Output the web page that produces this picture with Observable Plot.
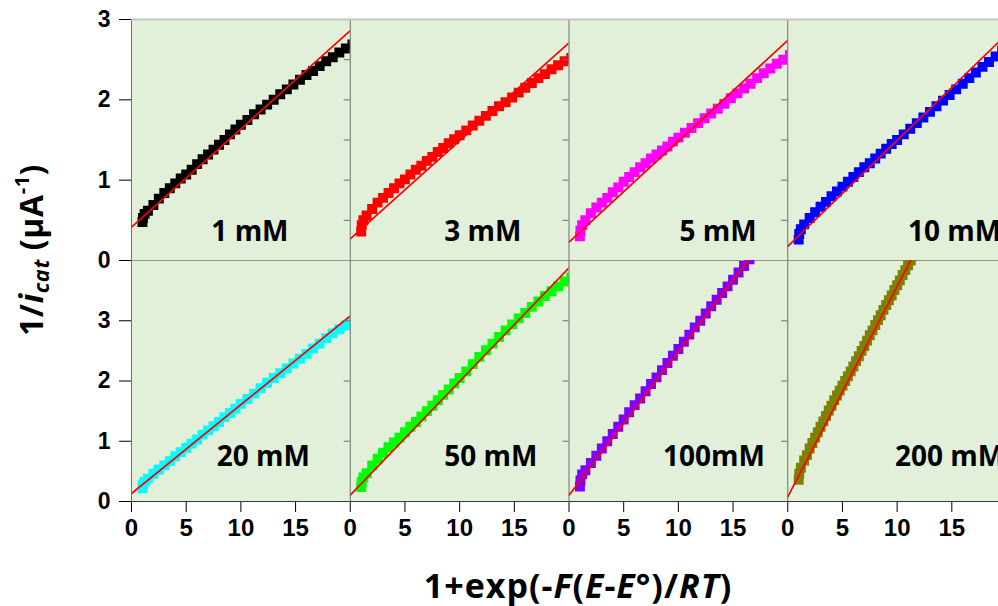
<!DOCTYPE html>
<html>
<head>
<meta charset="utf-8">
<script src="https://cdn.jsdelivr.net/npm/d3@7"></script>
<script src="https://cdn.jsdelivr.net/npm/@observablehq/plot@0.6"></script>
<style>
  html, body { margin: 0; padding: 0; background: #fff; overflow: hidden; }
  #wrap { position: relative; width: 998px; height: 606px; overflow: hidden; background: #fff; }
  #topRow, #bottomRow { position: absolute; left: 0; width: 1010px; }
  #topRow { top: 0; }
  #bottomRow { top: 260px; }
  #wrap svg { max-width: none !important; }
  .ytitle { position: absolute; left: 32px; top: 250px; transform: translate(-50%, -50%) rotate(-90deg);
            font-family: "Open Sans", sans-serif; font-weight: bold; font-size: 32px; white-space: nowrap; color: #000; letter-spacing: 0.6px; }
  .ytitle sub { font-size: 0.68em; vertical-align: -0.25em; }
  .ytitle sup { font-size: 0.62em; vertical-align: 0.7em; line-height: 0; }
  .xtitle { position: absolute; left: 578px; top: 585px; transform: translate(-50%, -50%);
            font-family: "Open Sans", sans-serif; font-weight: bold; font-size: 34px; white-space: nowrap; color: #000; letter-spacing: 1px; }
  g[aria-label="x-axis tick label"] text { font-family: "Liberation Sans Narrow", "Liberation Sans", Arial, sans-serif; font-size: 24px; }
  g[aria-label="y-axis tick label"] text { font-family: "Liberation Sans", Arial, sans-serif; font-size: 23px; }
</style>
</head>
<body>
<div id="wrap">
  <div id="topRow"></div>
  <div id="bottomRow"></div>
  <div class="ytitle">1/<i>i</i><sub><i>cat</i></sub> (μA<sup>-1</sup>)</div>
  <div class="xtitle">1+exp(-<i>F</i>(<i>E</i>-<i>E</i>°)/<i>RT</i>)</div>
</div>
<script>
// ---------- data ----------
const topConcs = ["1 mM", "3 mM", "5 mM", "10 mM"];
const bottomConcs = ["20 mM", "50 mM", "100mM", "200 mM"];
const seriesColors = ["#000000", "#FF0000", "#FF00FF", "#0000FF", "#00FFFF", "#00FF00", "#8000FF", "#808000"];

const xsCommon = [1, 1.05, 1.2, 1.5, 2, 2.5, 3, 3.5, 4, 4.5, 5, 5.5, 6, 6.5, 7, 7.5, 8, 8.5, 9, 9.5, 10,
  10.6, 11.2, 11.8, 12.4, 13, 13.6, 14.2, 14.8, 15.4, 16, 16.6, 17.2, 17.8, 18.4, 19, 19.6, 20.2];

const y1mM = [0.48, 0.53, 0.58, 0.62, 0.69, 0.77, 0.84, 0.90, 0.96, 1.02, 1.07, 1.13, 1.20, 1.26, 1.32, 1.38, 1.44, 1.50, 1.57, 1.63, 1.69,
  1.75, 1.82, 1.88, 1.94, 2.00, 2.07, 2.13, 2.19, 2.25, 2.31, 2.36, 2.42, 2.48, 2.53, 2.59, 2.64, 2.69];
const y3mM = [0.36, 0.44, 0.50, 0.56, 0.64, 0.72, 0.78, 0.84, 0.90, 0.96, 1.01, 1.07, 1.13, 1.18, 1.24, 1.29, 1.35, 1.40, 1.46, 1.51, 1.56,
  1.62, 1.68, 1.74, 1.80, 1.86, 1.92, 1.97, 2.03, 2.09, 2.15, 2.21, 2.27, 2.32, 2.38, 2.43, 2.48, 2.52];
const y5mM = [0.30, 0.37, 0.44, 0.50, 0.59, 0.66, 0.72, 0.78, 0.85, 0.91, 0.98, 1.04, 1.10, 1.16, 1.21, 1.27, 1.32, 1.37, 1.42, 1.48, 1.53,
  1.59, 1.65, 1.71, 1.77, 1.83, 1.89, 1.95, 2.02, 2.08, 2.14, 2.20, 2.27, 2.33, 2.39, 2.45, 2.50, 2.56];
const y10mM = [0.26, 0.33, 0.39, 0.45, 0.53, 0.60, 0.67, 0.73, 0.80, 0.86, 0.92, 0.98, 1.04, 1.10, 1.16, 1.21, 1.27, 1.33, 1.39, 1.45, 1.50,
  1.57, 1.64, 1.71, 1.78, 1.85, 1.92, 1.99, 2.06, 2.13, 2.20, 2.27, 2.34, 2.41, 2.47, 2.54, 2.61, 2.67];
const y20mM = [0.22, 0.28, 0.33, 0.38, 0.46, 0.53, 0.60, 0.67, 0.75, 0.82, 0.89, 0.96, 1.03, 1.11, 1.18, 1.25, 1.32, 1.40, 1.47, 1.54, 1.62,
  1.70, 1.79, 1.88, 1.97, 2.05, 2.13, 2.21, 2.29, 2.37, 2.45, 2.54, 2.62, 2.71, 2.79, 2.86, 2.92, 2.98];
const y50mM = [0.24, 0.32, 0.40, 0.47, 0.60, 0.71, 0.81, 0.90, 0.98, 1.06, 1.15, 1.24, 1.32, 1.41, 1.50, 1.59, 1.68, 1.77, 1.86, 1.96, 2.05,
  2.16, 2.28, 2.40, 2.51, 2.62, 2.73, 2.84, 2.94, 3.04, 3.13, 3.23, 3.32, 3.41, 3.49, 3.57, 3.65, 3.72];

const xs100mM = [1, 1.05, 1.2, 1.5, 2, 2.5, 3, 3.5, 4, 4.5, 5, 5.5, 6, 6.5, 7, 7.5, 8, 8.5, 9, 9.5, 10,
  10.5, 11, 11.5, 12, 12.5, 13, 13.5, 14, 14.5, 15, 15.5, 16, 16.5, 17];
const y100mM = [0.25, 0.35, 0.45, 0.52, 0.64, 0.76, 0.88, 1.00, 1.12, 1.24, 1.36, 1.48, 1.60, 1.71, 1.83, 1.95, 2.06, 2.18, 2.30, 2.42, 2.53,
  2.65, 2.77, 2.89, 3.00, 3.12, 3.24, 3.35, 3.46, 3.57, 3.68, 3.80, 3.91, 4.02, 4.13];

const xs200mM = [1, 1.05, 1.2, 1.5, 1.75, 2, 2.25, 2.5, 2.75, 3, 3.25, 3.5, 3.75, 4, 4.25, 4.5, 4.75, 5, 5.25, 5.5, 5.75,
  6, 6.25, 6.5, 6.75, 7, 7.25, 7.5, 7.75, 8, 8.25, 8.5, 8.75, 9, 9.25, 9.5, 9.75, 10, 10.25, 10.5, 10.75, 11, 11.25, 11.5, 11.75];
const y200mM = [0.36, 0.46, 0.56, 0.68, 0.77, 0.88, 0.97, 1.06, 1.15, 1.24, 1.33, 1.42, 1.51, 1.59, 1.68, 1.76, 1.84, 1.92, 2.00, 2.08, 2.16,
  2.24, 2.33, 2.41, 2.50, 2.58, 2.67, 2.76, 2.84, 2.93, 3.01, 3.09, 3.18, 3.26, 3.34, 3.42, 3.51, 3.59, 3.67, 3.76, 3.84, 3.92, 4.00, 4.08, 4.16];

// linear fits (value at x = 0 and at x = 20), one per concentration
const fitAt0 = [0.415, 0.27, 0.23, 0.175, 0.133, 0.105, 0.105, 0.077];
const fitAt20 = [2.86, 2.71, 2.74, 2.815, 3.08, 3.88, 4.86, 7.06];

// panel tick values
const topYTicks = [0, 1, 2, 3];
const bottomYTicks = [0, 1, 2, 3];
const xTicks = [0, 5, 10, 15];
const topInnerTicks = [0.5, 1, 1.5, 2, 2.5];
const bottomInnerTicks = [1, 2, 3];

// panel label anchor (left edge, in data units)
const labelX = [7.3, 8.6, 10.1, 11.0, 7.8, 8.6, 8.6, 9.8];
const labelYTop = 0.36;
const labelYBottom = 0.74;

// ---------- build tables ----------
const seriesX = [xsCommon, xsCommon, xsCommon, xsCommon, xsCommon, xsCommon, xs100mM, xs200mM];
const seriesY = [y1mM, y3mM, y5mM, y10mM, y20mM, y50mM, y100mM, y200mM];
const allConcs = topConcs.concat(bottomConcs);

function seriesRows(i) {
  return seriesX[i].map((x, j) => ({conc: allConcs[i], x, y: seriesY[i][j]}));
}
function fitRows(i) {
  return [{conc: allConcs[i], x: 0, y: fitAt0[i]}, {conc: allConcs[i], x: 20, y: fitAt20[i]}];
}

const panelW = 218.75;
const FONT_LABEL = "Open Sans";

function makeRow(concs, offset, opt) {
  const idx = concs.map((c, k) => offset + k);
  const innerRows = concs.slice(1).flatMap(c => opt.innerTicks.map(v => ({conc: c, v})));
  const labelRows = concs.map((c, k) => ({conc: c, lx: labelX[offset + k], ly: opt.labelY}));
  const marks = [
    Plot.frame({fill: "#E2F0D9", stroke: null}),
    ...idx.map(i => Plot.dot(seriesRows(i), {fx: "conc", x: "x", y: "y", symbol: "square", r: 5.6,
      fill: seriesColors[i], clip: true})),
    Plot.line(idx.flatMap(fitRows), {fx: "conc", x: "x", y: "y", z: "conc", stroke: "#FF0000", strokeWidth: 1.7, clip: true}),
    Plot.ruleX([0], {stroke: "#6e6e6e", strokeWidth: 1}),
    Plot.ruleY([0], {stroke: "#3a3a3a", strokeWidth: 1.2}),
    Plot.ruleY(innerRows, {fx: "conc", y: "v", x1: -0.55, x2: 0, stroke: "#6e6e6e"}),
    Plot.text(labelRows, {fx: "conc", x: "lx", y: "ly", text: "conc", textAnchor: "start", lineAnchor: "middle",
      fontSize: 28, fontWeight: "bold", fontFamily: FONT_LABEL, fill: "#000"})
  ];
  if (opt.topBorder) marks.push(Plot.ruleY([opt.ydomain[1]], {stroke: "#c4c4c4", strokeWidth: 2}));
  return Plot.plot({
    width: 131 + 4 * panelW,
    height: opt.height,
    marginLeft: 131, marginRight: 0, marginTop: opt.mt, marginBottom: opt.mb,
    style: {background: "transparent", fontFamily: "'Liberation Sans', Arial, sans-serif", fontWeight: "bold",
      fontSize: "22px", color: "#000", overflow: "visible", maxWidth: "none"},
    fx: {domain: concs, padding: 0, round: false, axis: null, label: null},
    x: opt.showX
      ? {domain: [0, 20], ticks: xTicks, tickSize: 11, tickPadding: 6, label: null, tickFormat: d => String(d)}
      : {domain: [0, 20], axis: null},
    y: {domain: opt.ydomain, ticks: opt.yticks, tickSize: 12, tickPadding: 9, label: null, tickFormat: d => String(d)},
    marks
  });
}

document.getElementById("topRow").appendChild(makeRow(topConcs, 0, {
  height: 261, mt: 19, mb: 1, ydomain: [0, 3], yticks: topYTicks, innerTicks: topInnerTicks,
  labelY: labelYTop, showX: false, topBorder: true
}));
document.getElementById("bottomRow").appendChild(makeRow(bottomConcs, 4, {
  height: 346, mt: 0, mb: 105, ydomain: [0, 4], yticks: bottomYTicks, innerTicks: bottomInnerTicks,
  labelY: labelYBottom, showX: true, topBorder: false
}));
</script>
</body>
</html>
